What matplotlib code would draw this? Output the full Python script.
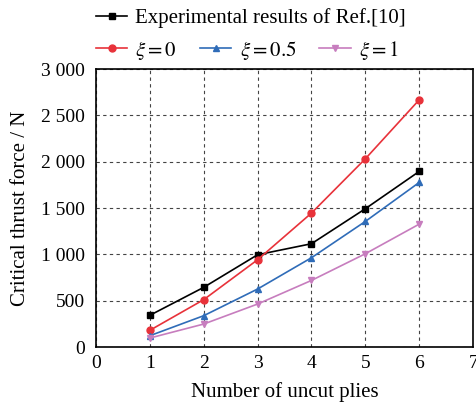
import matplotlib
matplotlib.use("Agg")
import matplotlib.pyplot as plt
from matplotlib.ticker import FuncFormatter

plt.rcParams["font.family"] = ["Liberation Serif", "DejaVu Serif"]
plt.rcParams["mathtext.fontset"] = "stix"

plies = [1, 2, 3, 4, 5, 6]
exp_ref10 = [342, 644, 996, 1115, 1493, 1896]
xi_0 = [180, 511, 942, 1446, 2032, 2669]
xi_05 = [122, 338, 626, 964, 1356, 1777]
xi_1 = [97, 248, 464, 719, 1007, 1327]

fig = plt.figure(figsize=(4.77, 4.04), dpi=100)
ax = fig.add_axes([0.201, 0.141, 0.791, 0.688])

l_exp, = ax.plot(plies, exp_ref10, color="black", marker="s", ms=5, lw=1.2)
l0, = ax.plot(plies, xi_0, color="#e8323a", marker="o", ms=5, lw=1.2)
l05, = ax.plot(plies, xi_05, color="#2f6cb8", marker="^", ms=5, lw=1.2)
l1, = ax.plot(plies, xi_1, color="#c77dbe", marker="v", ms=5, lw=1.2)

ax.set_xlim(0, 7)
ax.set_ylim(0, 3000)
ax.set_xticks(range(0, 8))
ax.set_yticks(range(0, 3001, 500))
ax.yaxis.set_major_formatter(FuncFormatter(lambda v, p: f"{int(v):,}".replace(",", " ")))
ax.grid(True, ls=(0, (3, 3)), color="#444444", lw=0.8)
ax.tick_params(axis="x", direction="in", length=0, labelsize=14, pad=6)
ax.tick_params(axis="y", direction="in", length=0, labelsize=14, pad=8)
for s in ax.spines.values():
    s.set_linewidth(1.2)

ax.set_xlabel("Number of uncut plies", fontsize=15, labelpad=7)
ax.set_ylabel("Critical thrust force / N", fontsize=15, labelpad=8)

leg1 = ax.legend([l_exp], ["Experimental results of Ref.[10]"], loc="center left",
                 bbox_to_anchor=(0.0, 1.183), frameon=False, fontsize=15,
                 handlelength=1.5, handletextpad=0.4, borderaxespad=0, borderpad=0)
ax.add_artist(leg1)
ax.legend([l0, l05, l1], [r"$\xi = 0$", r"$\xi = 0.5$", r"$\xi = 1$"], loc="center left",
          bbox_to_anchor=(0.0, 1.068), ncol=3, frameon=False, fontsize=15,
          handlelength=1.5, handletextpad=0.4, columnspacing=1.1, borderaxespad=0, borderpad=0)

fig.savefig("out.png", dpi=100)
